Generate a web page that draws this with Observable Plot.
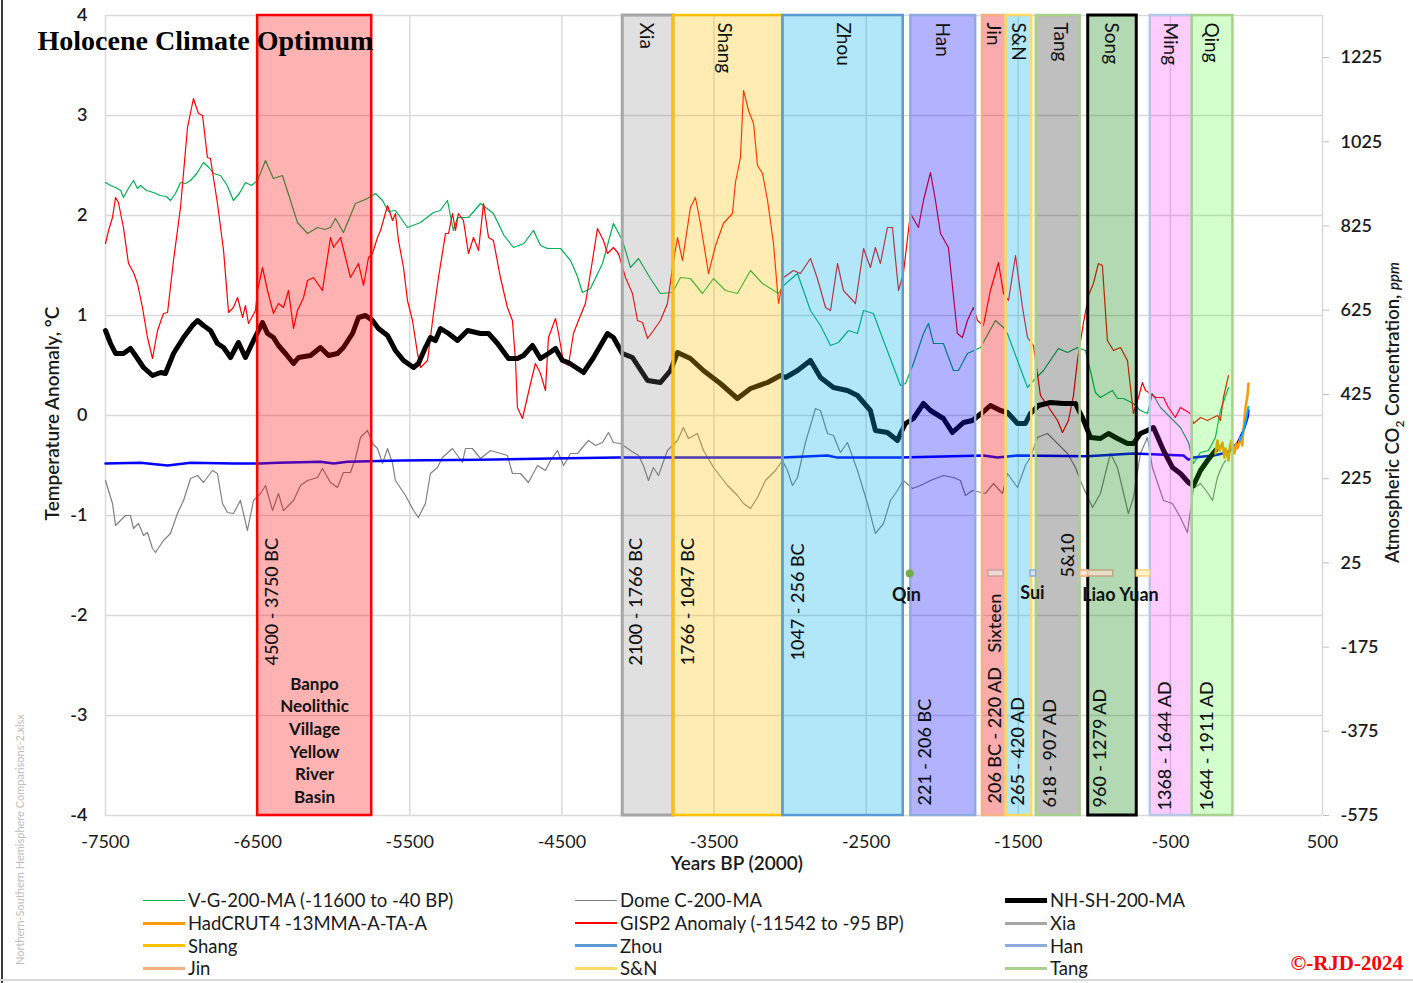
<!DOCTYPE html>
<html>
<head>
<meta charset="utf-8">
<script src="https://cdn.jsdelivr.net/npm/d3@7"></script>
<script src="https://cdn.jsdelivr.net/npm/@observablehq/plot@0.6"></script>
<style>
  html, body { margin: 0; padding: 0; background: #fff; }
  #wrap { position: relative; width: 1413px; height: 983px; overflow: hidden; font-family: Lato, "Open Sans", sans-serif; }
  #chart svg { display: block; }
  #edge-left { position: absolute; left: 1px; top: 0; width: 2px; height: 983px; background: #3a3a3a; }
  #edge-bottom { position: absolute; left: 0; top: 979px; width: 1413px; height: 2px; background: #d9d9d9; }
  #legend { position: absolute; left: 143px; top: 889px; display: grid; grid-template-columns: 432px 430px 320px; grid-auto-rows: 22.7px; font-size: 18.5px; color: #1a1a1a; }
  .item { display: flex; align-items: center; white-space: nowrap; }
  .swatch { width: 42px; margin-right: 3px; }
  #copy { position: absolute; right: 10px; top: 951px; font: bold 21px "Liberation Serif", "Times New Roman", serif; color: #ff0000; }
  #file { position: absolute; left: 14px; top: 965px; transform: rotate(-90deg); transform-origin: 0 0; font-size: 11px; line-height: 12px; color: #bdbdbd; white-space: nowrap; }
</style>
</head>
<body>
<div id="wrap">
  <div id="chart"></div>
  <div id="legend"></div>
  <div id="copy">©-RJD-2024</div>
  <div id="file">Northern-Southern Hemisphere Comparisons-2.xlsx</div>
  <div id="edge-left"></div>
  <div id="edge-bottom"></div>
</div>
<script>
const FONT = "Lato, 'Open Sans', sans-serif";

// Years are relative to 2000 (negative = earlier); anomalies in °C.
const vg200 = [[-7500,2.33],[-7467,2.30],[-7434,2.28],[-7400,2.25],[-7382,2.18],[-7350,2.27],[-7316,2.35],[-7290,2.27],[-7270,2.30],[-7230,2.25],[-7184,2.23],[-7140,2.20],[-7100,2.19],[-7073,2.15],[-7040,2.22],[-7007,2.33],[-6975,2.32],[-6941,2.35],[-6900,2.42],[-6856,2.53],[-6820,2.48],[-6790,2.42],[-6744,2.40],[-6700,2.30],[-6659,2.15],[-6620,2.22],[-6580,2.33],[-6540,2.30],[-6501,2.35],[-6448,2.55],[-6420,2.45],[-6396,2.37],[-6337,2.40],[-6284,2.15],[-6238,1.93],[-6172,1.82],[-6106,1.88],[-6060,1.86],[-6021,1.88],[-5988,1.97],[-5936,1.83],[-5857,2.12],[-5778,2.17],[-5725,2.22],[-5679,2.15],[-5640,2.04],[-5594,2.05],[-5515,1.88],[-5429,1.93],[-5344,2.03],[-5300,2.05],[-5252,2.15],[-5213,1.85],[-5186,1.98],[-5114,1.98],[-5035,2.12],[-4950,2.02],[-4880,1.80],[-4818,1.68],[-4750,1.72],[-4687,1.85],[-4640,1.70],[-4595,1.67],[-4509,1.67],[-4443,1.55],[-4400,1.40],[-4365,1.23],[-4312,1.27],[-4233,1.52],[-4161,1.92],[-4102,1.75],[-4049,1.48],[-3996,1.57],[-3918,1.37],[-3852,1.22],[-3773,1.23],[-3720,1.38],[-3655,1.37],[-3576,1.22],[-3503,1.37],[-3425,1.25],[-3346,1.22],[-3260,1.45],[-3181,1.32],[-3076,1.22],[-3043,1.30],[-2951,1.42],[-2866,1.05],[-2800,0.90],[-2734,0.70],[-2682,0.73],[-2616,0.85],[-2557,0.82],[-2517,1.05],[-2452,1.02],[-2386,0.75],[-2274,0.30],[-2241,0.32],[-2189,0.52],[-2123,0.82],[-2090,0.92],[-2057,0.72],[-1992,0.72],[-1926,0.45],[-1893,0.45],[-1834,0.62],[-1748,0.68],[-1650,0.95],[-1597,0.88],[-1571,0.82],[-1505,0.55],[-1439,0.28],[-1400,0.35],[-1334,0.45],[-1236,0.67],[-1176,0.63],[-1111,0.68],[-1058,0.65],[-1026,0.45],[-993,0.23],[-960,0.18],[-881,0.25],[-848,0.17],[-808,0.17],[-743,0.12],[-697,0.05],[-651,0.02],[-618,0.22],[-565,0.08],[-499,-0.02],[-434,-0.12],[-381,-0.27],[-348,-0.48],[-302,-0.37],[-250,-0.35],[-204,-0.22],[-171,0.05],[-118,0.28]];

const domeC200 = [[-7500,-0.65],[-7454,-0.88],[-7434,-1.10],[-7369,-1.00],[-7336,-1.00],[-7316,-1.13],[-7283,-1.08],[-7250,-1.20],[-7224,-1.17],[-7191,-1.33],[-7171,-1.37],[-7119,-1.25],[-7073,-1.18],[-7027,-0.98],[-6987,-0.85],[-6941,-0.63],[-6895,-0.60],[-6856,-0.67],[-6797,-0.55],[-6764,-0.58],[-6731,-0.88],[-6698,-0.97],[-6659,-0.98],[-6613,-0.85],[-6567,-1.15],[-6527,-0.85],[-6481,-0.78],[-6448,-0.70],[-6402,-0.95],[-6363,-0.78],[-6330,-0.95],[-6264,-0.85],[-6218,-0.70],[-6172,-0.65],[-6106,-0.62],[-6074,-0.53],[-6021,-0.67],[-5975,-0.72],[-5936,-0.57],[-5890,-0.57],[-5857,-0.43],[-5824,-0.22],[-5778,-0.15],[-5745,-0.28],[-5712,-0.33],[-5679,-0.48],[-5646,-0.33],[-5613,-0.48],[-5594,-0.65],[-5528,-0.80],[-5475,-0.95],[-5443,-1.02],[-5397,-0.88],[-5364,-0.58],[-5318,-0.52],[-5285,-0.42],[-5219,-0.33],[-5153,-0.47],[-5134,-0.33],[-5088,-0.33],[-5035,-0.43],[-4969,-0.35],[-4923,-0.37],[-4858,-0.40],[-4825,-0.58],[-4772,-0.58],[-4720,-0.67],[-4660,-0.50],[-4608,-0.55],[-4575,-0.45],[-4529,-0.35],[-4489,-0.50],[-4443,-0.38],[-4397,-0.38],[-4365,-0.32],[-4325,-0.25],[-4279,-0.30],[-4233,-0.27],[-4194,-0.17],[-4161,-0.27],[-4115,-0.28],[-4049,-0.35],[-3996,-0.40],[-3964,-0.50],[-3931,-0.65],[-3898,-0.52],[-3865,-0.60],[-3806,-0.35],[-3740,-0.25],[-3701,-0.12],[-3668,-0.23],[-3609,-0.18],[-3569,-0.35],[-3503,-0.52],[-3411,-0.70],[-3346,-0.80],[-3306,-0.88],[-3260,-0.93],[-3214,-0.82],[-3162,-0.65],[-3096,-0.55],[-3050,-0.45],[-3017,-0.55],[-2984,-0.70],[-2951,-0.62],[-2899,-0.27],[-2833,0.07],[-2800,0.05],[-2754,-0.18],[-2715,-0.20],[-2669,-0.37],[-2623,-0.27],[-2557,-0.55],[-2491,-0.88],[-2439,-1.18],[-2386,-1.08],[-2340,-0.85],[-2294,-0.75],[-2255,-0.65],[-2195,-0.73],[-2143,-0.70],[-2077,-0.65],[-1992,-0.60],[-1926,-0.62],[-1880,-0.65],[-1847,-0.80],[-1801,-0.75],[-1716,-0.78],[-1663,-0.68],[-1604,-0.78],[-1571,-0.58],[-1505,-0.72],[-1453,-0.50],[-1420,-0.42],[-1374,-0.22],[-1308,-0.18],[-1242,-0.28],[-1176,-0.38],[-1124,-0.52],[-1078,-0.70],[-1012,-0.92],[-960,-0.78],[-894,-0.38],[-848,-0.52],[-776,-0.98],[-743,-0.82],[-697,-0.38],[-651,-0.22],[-618,-0.52],[-545,-0.85],[-486,-0.88],[-434,-1.02],[-388,-1.17],[-348,-0.73],[-302,-0.68],[-256,-0.77],[-223,-0.85],[-191,-0.62],[-158,-0.50],[-138,-0.45]];

const nhsh200 = [[-7500,0.85],[-7467,0.72],[-7434,0.62],[-7382,0.62],[-7336,0.67],[-7303,0.60],[-7250,0.48],[-7191,0.40],[-7138,0.43],[-7106,0.42],[-7053,0.62],[-6987,0.78],[-6928,0.90],[-6895,0.95],[-6856,0.90],[-6810,0.85],[-6764,0.72],[-6724,0.68],[-6678,0.58],[-6626,0.73],[-6580,0.58],[-6527,0.75],[-6468,0.93],[-6435,0.82],[-6396,0.78],[-6363,0.70],[-6317,0.62],[-6264,0.52],[-6231,0.58],[-6152,0.60],[-6087,0.68],[-6034,0.60],[-5975,0.62],[-5936,0.68],[-5876,0.82],[-5837,0.98],[-5791,1.00],[-5745,0.95],[-5706,0.87],[-5646,0.80],[-5594,0.65],[-5541,0.55],[-5475,0.48],[-5443,0.52],[-5397,0.68],[-5364,0.78],[-5331,0.75],[-5298,0.87],[-5245,0.82],[-5186,0.75],[-5120,0.85],[-5035,0.82],[-4982,0.82],[-4923,0.72],[-4851,0.57],[-4792,0.57],[-4752,0.60],[-4693,0.70],[-4641,0.57],[-4588,0.62],[-4542,0.67],[-4496,0.55],[-4457,0.53],[-4397,0.47],[-4358,0.43],[-4292,0.58],[-4200,0.82],[-4161,0.78],[-4102,0.62],[-4036,0.58],[-3937,0.35],[-3852,0.33],[-3786,0.45],[-3740,0.63],[-3655,0.57],[-3570,0.45],[-3458,0.32],[-3346,0.17],[-3260,0.27],[-3148,0.33],[-3063,0.40],[-3030,0.38],[-2951,0.45],[-2866,0.55],[-2800,0.38],[-2715,0.28],[-2623,0.25],[-2557,0.20],[-2472,0.05],[-2439,-0.15],[-2360,-0.17],[-2294,-0.25],[-2274,-0.18],[-2241,-0.08],[-2189,-0.03],[-2123,0.12],[-2077,0.05],[-1992,-0.03],[-1933,-0.17],[-1860,-0.07],[-1801,-0.05],[-1735,0.03],[-1683,0.10],[-1617,0.05],[-1571,0.03],[-1505,-0.08],[-1453,-0.08],[-1420,0.02],[-1367,0.10],[-1288,0.13],[-1203,0.12],[-1124,0.12],[-1078,-0.02],[-1025,-0.22],[-960,-0.23],[-907,-0.18],[-848,-0.23],[-782,-0.28],[-743,-0.28],[-697,-0.18],[-651,-0.15],[-611,-0.12],[-545,-0.35],[-486,-0.52],[-434,-0.58],[-381,-0.67],[-348,-0.70],[-302,-0.55],[-256,-0.45],[-204,-0.35]];

const gisp2 = [[-7500,1.72],[-7480,1.85],[-7454,1.98],[-7434,2.18],[-7415,2.13],[-7382,1.88],[-7349,1.52],[-7316,1.43],[-7290,1.32],[-7257,1.08],[-7224,0.78],[-7191,0.57],[-7158,0.85],[-7119,1.02],[-7092,1.03],[-7053,1.55],[-7007,2.08],[-6961,2.88],[-6922,3.17],[-6889,3.02],[-6862,3.00],[-6830,2.58],[-6810,2.57],[-6764,2.12],[-6724,1.65],[-6691,1.03],[-6659,1.08],[-6632,1.18],[-6599,0.98],[-6580,1.10],[-6560,0.92],[-6514,1.05],[-6501,1.25],[-6468,1.48],[-6435,1.25],[-6396,1.02],[-6363,1.12],[-6330,1.08],[-6297,1.25],[-6264,0.87],[-6238,1.05],[-6198,1.18],[-6172,1.35],[-6133,1.38],[-6074,1.25],[-6021,1.78],[-6001,1.68],[-5955,1.78],[-5890,1.38],[-5837,1.52],[-5804,1.30],[-5771,1.58],[-5745,1.62],[-5712,1.78],[-5692,1.85],[-5646,2.10],[-5613,1.95],[-5594,2.02],[-5574,1.75],[-5541,1.48],[-5515,1.15],[-5482,0.95],[-5449,0.62],[-5429,0.48],[-5383,0.55],[-5344,1.02],[-5311,1.38],[-5265,1.82],[-5245,1.82],[-5219,2.02],[-5199,1.85],[-5180,2.02],[-5147,1.95],[-5114,1.62],[-5081,1.78],[-5048,1.65],[-5015,2.12],[-4982,1.78],[-4950,1.75],[-4904,1.38],[-4858,1.08],[-4825,0.95],[-4805,0.55],[-4792,0.08],[-4759,-0.03],[-4706,0.32],[-4674,0.52],[-4641,0.42],[-4608,0.25],[-4588,0.78],[-4542,0.97],[-4522,0.82],[-4489,0.53],[-4457,0.50],[-4424,0.82],[-4391,0.95],[-4345,1.12],[-4299,1.55],[-4266,1.87],[-4227,1.75],[-4200,1.62],[-4161,1.68],[-4128,1.62],[-4082,1.38],[-4036,1.22],[-4003,0.95],[-3970,0.93],[-3937,0.77],[-3898,0.85],[-3852,0.95],[-3806,1.12],[-3773,1.48],[-3740,1.78],[-3707,1.55],[-3655,2.08],[-3622,2.18],[-3589,1.92],[-3536,1.42],[-3490,1.70],[-3438,1.92],[-3379,2.02],[-3359,2.33],[-3326,2.58],[-3306,3.25],[-3273,3.05],[-3240,2.92],[-3214,2.50],[-3181,2.42],[-3148,2.15],[-3109,1.72],[-3076,1.12],[-3043,1.38],[-2978,1.45],[-2932,1.42],[-2866,1.57],[-2820,1.37],[-2767,1.08],[-2734,1.05],[-2688,1.52],[-2649,1.25],[-2570,1.12],[-2517,1.67],[-2472,1.48],[-2439,1.68],[-2406,1.52],[-2360,1.88],[-2327,1.88],[-2287,1.25],[-2255,1.42],[-2209,2.02],[-2156,1.88],[-2123,2.15],[-2077,2.43],[-2044,2.15],[-2011,1.82],[-1959,1.68],[-1900,0.82],[-1867,0.78],[-1834,0.95],[-1795,1.08],[-1768,0.95],[-1729,0.90],[-1683,1.25],[-1630,1.53],[-1597,1.22],[-1564,1.15],[-1518,1.60],[-1472,1.08],[-1439,0.78],[-1400,0.70],[-1354,0.20],[-1308,0.10],[-1242,-0.05],[-1209,-0.17],[-1170,-0.05],[-1137,0.20],[-1111,0.55],[-1072,0.92],[-1038,1.20],[-1006,1.32],[-973,1.52],[-947,1.50],[-914,0.75],[-874,0.65],[-828,0.68],[-782,0.55],[-743,0.02],[-710,0.18],[-684,0.33],[-664,0.25],[-631,0.22],[-598,0.18],[-545,0.18],[-513,0.08],[-467,-0.02],[-434,0.08],[-368,0.02],[-348,-0.08],[-302,-0.02],[-256,-0.05],[-191,0.00],[-171,-0.05],[-151,0.18],[-118,0.40]];

const hadcrut4 = [[-204,-0.38],[-190,-0.25],[-177,-0.35],[-158,-0.27],[-145,-0.42],[-138,-0.33],[-118,-0.45],[-108,-0.30],[-98,-0.25],[-79,-0.38],[-69,-0.28],[-59,-0.33],[-39,-0.22],[-28,-0.30],[-20,-0.15],[-6,0.08],[7,0.20],[13,0.32]];

// Atmospheric CO2 in ppm (right axis)
const co2Ice = [[-7500,261],[-7270,263],[-7092,256],[-6941,263],[-6659,261],[-6481,261],[-6369,263],[-6218,264],[-6087,265],[-6001,261],[-5909,265],[-5561,268],[-5035,270],[-4575,273],[-4135,275],[-3589,275],[-3043,275],[-2754,280],[-2688,275],[-2274,275],[-1729,280],[-1637,275],[-1505,280],[-1045,278],[-743,285],[-414,280],[-381,270],[-348,275],[-217,280],[-125,287],[-59,309],[-20,339],[7,370],[13,387]];
const co2MaunaLoa = [[-42,315],[-20,339],[0,369],[13,396]];

const co2Ticks = [-575, -375, -175, 25, 225, 425, 625, 825, 1025, 1225];
const CO2_MIN = -575, CO2_MAX = 1325;
const toAnomaly = ppm => -4 + (ppm - CO2_MIN) / (CO2_MAX - CO2_MIN) * 8;
const toPpm = t => CO2_MIN + (t + 4) / 8 * (CO2_MAX - CO2_MIN);

const xTicks = d3.range(-7500, 501, 1000);
const yTicks = d3.range(-4, 5, 1);

// Cultural periods, calendar years (negative = BC)
const periods = [
  {name: "Banpo", from: -4500, to: -3750, fill: "#ff0000", op: 0.30, stroke: "#ff0000", sw: 2.5},
  {name: "Xia",   from: -2100, to: -1766, fill: "#7f7f7f", op: 0.24, stroke: "#a6a6a6", sw: 3},
  {name: "Shang", from: -1766, to: -1047, fill: "#ffc000", op: 0.30, stroke: "#ffc000", sw: 2.5},
  {name: "Zhou",  from: -1047, to: -256,  fill: "#00b0f0", op: 0.30, stroke: "#5b9bd5", sw: 2.5},
  {name: "Han",   from: -206,  to: 220,   fill: "#0000ff", op: 0.30, stroke: "#8faadc", sw: 2.5},
  {name: "Jin",   from: 265,   to: 420,   fill: "#f00000", op: 0.33, stroke: "#f4b183", sw: 2.5},
  {name: "S&N",   from: 420,   to: 589,   fill: "#00b0f0", op: 0.30, stroke: "#ffd966", sw: 2.5},
  {name: "Tang",  from: 618,   to: 907,   fill: "#000000", op: 0.25, stroke: "#a9d18e", sw: 2.5},
  {name: "Song",  from: 960,   to: 1279,  fill: "#008000", op: 0.30, stroke: "#000000", sw: 3},
  {name: "Ming",  from: 1368,  to: 1644,  fill: "#ff00ff", op: 0.20, stroke: "#b4c7e7", sw: 2.5},
  {name: "Qing",  from: 1644,  to: 1911,  fill: "#22ff00", op: 0.20, stroke: "#a9d18e", sw: 2.5}
];
// Short-lived states shown as small bars
const minorStates = [
  {name: "Sixteen", from: 304, to: 404,  fill: "#efd9d7", stroke: "#c9a3a0"},
  {name: "Sui",     from: 581, to: 618,  fill: "#dae3f3", stroke: "#8faadc"},
  {name: "Liao",    from: 916, to: 1125, fill: "#e9dfc9", stroke: "#bfa880"},
  {name: "5&10",    from: 907, to: 960,  fill: "#fbe5d6", stroke: "#f4b183"},
  {name: "Yuan",    from: 1279, to: 1368, fill: "#fff2cc", stroke: "#ffd280"}
];
const qinState = [{name: "Qin", from: -221, to: -206}];
const MINOR_LEVEL = -1.58;

const periodNames = [
  {text: "Xia", x: -3944}, {text: "Shang", x: -3431}, {text: "Zhou", x: -2649},
  {text: "Han", x: -1998}, {text: "Jin", x: -1663}, {text: "S&N", x: -1499},
  {text: "Tang", x: -1223}, {text: "Song", x: -888}, {text: "Ming", x: -500}, {text: "Qing", x: -230}
];
const spanLabels = [
  {text: "4500 - 3750 BC", x: -6402, y: -2.50},
  {text: "2100 - 1766 BC", x: -4010, y: -2.50},
  {text: "1766 - 1047 BC", x: -3668, y: -2.50},
  {text: "1047 - 256 BC", x: -2945, y: -2.45},
  {text: "221 - 206 BC", x: -2110, y: -3.90},
  {text: "206 BC - 220 AD", x: -1650, y: -3.88},
  {text: "Sixteen", x: -1650, y: -2.37},
  {text: "265 - 420 AD", x: -1499, y: -3.90},
  {text: "618 - 907 AD", x: -1288, y: -3.92},
  {text: "960 - 1279 AD", x: -960, y: -3.92},
  {text: "1368 - 1644 AD", x: -533, y: -3.95},
  {text: "1644 - 1911 AD", x: -256, y: -3.95},
  {text: "5&10", x: -1170, y: -1.62}
];
const stateLabels = [
  {text: "Qin", x: -2235, y: -1.80},
  {text: "Sui", x: -1407, y: -1.78},
  {text: "Liao Yuan", x: -828, y: -1.80}
];
const banpoNote = [{text: "Banpo\nNeolithic\nVillage\nYellow\nRiver\nBasin", x: -6126, y: -3.235}];

const legendItems = [
  {label: "V-G-200-MA (-11600 to -40 BP)", color: "#00b050", w: 1.5},
  {label: "Dome C-200-MA", color: "#808080", w: 1.5},
  {label: "NH-SH-200-MA", color: "#000000", w: 5},
  {label: "HadCRUT4 -13MMA-A-TA-A", color: "#ff9900", w: 3},
  {label: "GISP2 Anomaly (-11542 to -95 BP)", color: "#ff0000", w: 1.5},
  {label: "Xia", color: "#a6a6a6", w: 3},
  {label: "Shang", color: "#ffc000", w: 3},
  {label: "Zhou", color: "#5b9bd5", w: 3},
  {label: "Han", color: "#8faadc", w: 3},
  {label: "Jin", color: "#f4b183", w: 3},
  {label: "S&N", color: "#ffd966", w: 3},
  {label: "Tang", color: "#a9d18e", w: 3}
];

const toX = year => year - 2000;   // calendar year -> years relative to 2000
const px = d => d[0], py = d => d[1];

const chart = Plot.plot({
  width: 1413,
  height: 880,
  marginLeft: 105,
  marginRight: 91,
  marginTop: 15,
  marginBottom: 65,
  x: {domain: [-7500, 500]},
  y: {domain: [-4, 4]},
  color: {type: "identity"},
  style: {fontFamily: FONT, fontSize: "17px", color: "#1a1a1a", background: "#fff"},
  marks: [
    Plot.gridX({ticks: xTicks, stroke: "#d9d9d9", strokeOpacity: 1, strokeWidth: 1.5}),
    Plot.gridY({ticks: yTicks, stroke: "#d9d9d9", strokeOpacity: 1, strokeWidth: 1.5}),
    Plot.axisX({ticks: xTicks, tickSize: 0, tickPadding: 20, tickFormat: d => String(d), fontSize: 18, label: null}),
    Plot.axisY({ticks: yTicks, tickSize: 0, tickPadding: 18, tickFormat: d => String(d), fontSize: 18, fontWeight: 600, label: null}),
    Plot.axisY({anchor: "right", ticks: co2Ticks.map(toAnomaly), tickSize: 6, tickPadding: 12,
      tickFormat: t => String(Math.round(toPpm(t))), stroke: "#bfbfbf", fill: "#1a1a1a",
      fontSize: 18, fontWeight: 600, textAnchor: "start", label: null}),

    // data series
    Plot.line(domeC200, {x: px, y: py, stroke: "#808080", strokeWidth: 1.2}),
    Plot.line(vg200, {x: px, y: py, stroke: "#00b050", strokeWidth: 1.2}),
    Plot.line(gisp2, {x: px, y: py, stroke: "#ff0000", strokeWidth: 1.2}),
    Plot.line(co2Ice, {x: px, y: d => toAnomaly(d[1]), stroke: "#0000ff", strokeWidth: 2.5}),
    Plot.line(nhsh200, {x: px, y: py, stroke: "#000000", strokeWidth: 5, strokeLinejoin: "round"}),
    Plot.line(hadcrut4, {x: px, y: py, stroke: "#ff9900", strokeWidth: 2.5}),
    Plot.line(co2MaunaLoa, {x: px, y: d => toAnomaly(d[1]), stroke: "#00b0f0", strokeWidth: 2}),

    // period bands
    Plot.rect(periods, {x1: d => toX(d.from), x2: d => toX(d.to), fill: "fill", fillOpacity: "op", stroke: "stroke", strokeWidth: "sw"}),
    Plot.rect(minorStates, {x1: d => toX(d.from), x2: d => toX(d.to), y1: () => MINOR_LEVEL + 0.03, y2: () => MINOR_LEVEL - 0.03, fill: "fill", stroke: "stroke", strokeWidth: 1.5}),
    Plot.dot(qinState, {x: d => toX((d.from + d.to) / 2), y: () => MINOR_LEVEL, r: 4, fill: "#70ad47"}),

    // labels
    Plot.text(periodNames, {x: "x", y: () => 3.93, text: "text", rotate: 90, textAnchor: "start", fontSize: 19, fill: "#111"}),
    Plot.text(spanLabels, {x: "x", y: "y", text: "text", rotate: -90, textAnchor: "start", fontSize: 18, fontWeight: 500, fill: "#111"}),
    Plot.text(stateLabels, {x: "x", y: "y", text: "text", fontSize: 18, fontWeight: "bold", fill: "#111"}),
    Plot.text(banpoNote, {x: "x", y: "y", text: "text", fontSize: 17, fontWeight: "bold", lineHeight: 1.33, fill: "#111"}),
    Plot.text(["Holocene Climate Optimum"], {frameAnchor: "top-left", dx: -68, dy: 15, textAnchor: "start", lineAnchor: "top",
      fontFamily: "'Liberation Serif', 'Times New Roman', serif", fontWeight: "bold", fontSize: 28, fill: "#000"}),
    Plot.text(["Temperature Anomaly, °C"], {frameAnchor: "left", dx: -53, dy: -2, rotate: -90, textAnchor: "middle", fontSize: 19, fontWeight: 600, fill: "#1a1a1a"}),
    Plot.text(["Atmospheric CO2 Concentration, ppm"], {frameAnchor: "right", dx: 71, dy: -3, rotate: -90, textAnchor: "middle", fontSize: 18.5, fontWeight: 600, fill: "#1a1a1a", className: "co2-title"}),
    Plot.text(["Years BP (2000)"], {x: () => -3350, y: () => -4, dy: 48, fontSize: 19, fontWeight: 600, fill: "#1a1a1a"})
  ]
});
document.getElementById("chart").appendChild(chart);

// Subscript "2" and italic unit in the right axis title
const co2Title = d3.select(chart).select(".co2-title text");
co2Title.text(null);
co2Title.append("tspan").text("Atmospheric CO");
co2Title.append("tspan").attr("font-size", 12).attr("dy", 5).text("2");
co2Title.append("tspan").attr("dy", -5).text(" Concentration, ");
co2Title.append("tspan").attr("font-style", "italic").attr("font-size", 15).text("ppm");

// Legend below the chart
const legend = d3.select("#legend");
const items = legend.selectAll(".item").data(legendItems).join("div").attr("class", "item");
items.append("div").attr("class", "swatch").style("height", d => d.w + "px").style("background", d => d.color);
items.append("span").text(d => d.label);
</script>
</body>
</html>
